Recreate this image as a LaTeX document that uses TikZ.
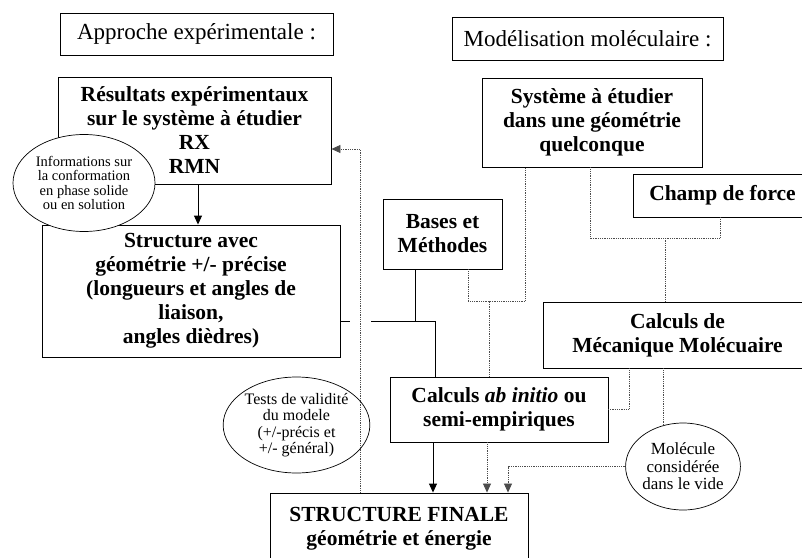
\documentclass[tikz,border=0pt]{standalone}
\usepackage{fontspec}
\setmainfont{Liberation Serif}
\usetikzlibrary{arrows.meta,shapes.geometric}

\begin{document}
\begin{tikzpicture}[x=1pt, y=-1pt, line width=0.9pt,
  head/.style={draw, rectangle, align=center, inner sep=0pt,
    font=\fontsize{23}{26}\selectfont},
  box/.style={draw, rectangle, align=center, inner sep=0pt,
    font=\fontsize{21.5}{24}\selectfont\bfseries},
  bulle/.style={draw, ellipse, align=center, inner sep=0pt, line width=0.7pt},
  link/.style={line width=1pt},
  dotlink/.style={densely dotted, line width=0.8pt, gray!60!black},
  arr/.style={link, -{Triangle[length=9pt,width=8pt]}},
  dotarr/.style={dotlink, -{Triangle[length=9pt,width=8pt]}}]
  \useasboundingbox (0,0) rectangle (802,557);
  \clip (0,0) rectangle (802,557);
  % titres
  \node[head, minimum width=273pt, minimum height=42pt] (hexp) at (196.5,34) {Approche expérimentale :};
  \node[head, minimum width=271pt, minimum height=43pt] (hmod) at (587.5,38.5) {Modélisation moléculaire :};
  % approche experimentale
  \node[box, minimum width=273pt, minimum height=107pt] (res) at (194.5,130.5)
    {Résultats expérimentaux\\sur le système à étudier\\RX\\RMN};
  \node[box, minimum width=298pt, minimum height=132pt] (struc) at (191,291)
    {Structure avec\\géométrie +/- précise\\(longueurs et angles de\\liaison,\\angles dièdres)};
  \node[bulle, fill=white, minimum width=142pt, minimum height=97pt,
    font=\fontsize{14.5}{14.5}\selectfont] (info) at (84,183)
    {Informations sur\\la conformation\\en phase solide\\ou en solution};
  % modelisation
  \node[box, minimum width=220pt, minimum height=89pt] (sys) at (592,122.5)
    {Système à étudier\\dans une géométrie\\quelconque};
  \node[box, minimum width=179pt, minimum height=43pt] (champ) at (722.5,195.5) {Champ de force};
  \node[box, minimum width=119pt, minimum height=70pt] (bases) at (442.5,234) {Bases et\\Méthodes};
  \node[box, minimum width=269pt, minimum height=66pt] (meca) at (677.5,335)
    {Calculs de\\Mécanique Molécuaire};
  \node[box, minimum width=218pt, minimum height=65pt] (abin) at (499,409.5)
    {Calculs \textit{ab initio} ou\\semi-empiriques};
  \node[bulle, minimum width=143pt, minimum height=96pt,
    font=\fontsize{16}{16.5}\selectfont] (tests) at (296.5,425)
    {Tests de validité\\du modele\\(+/-précis et\\+/- général)};
  \node[bulle, minimum width=110pt, minimum height=87pt,
    font=\fontsize{17}{17.5}\selectfont] (mol) at (683,466.5)
    {Molécule\\considérée\\dans le vide};
  % resultat
  \node[box, minimum width=258pt, minimum height=72pt] (final) at (399,529)
    {STRUCTURE FINALE\\géométrie et énergie};
  % liens
  \draw[arr] ([xshift=3.5pt]res.south) -- ([xshift=3.5pt]res.south |- struc.north);
  \draw[dotarr] ([xshift=-39pt]final.north) |- ([yshift=-18.5pt]res.east);
  \coordinate (jmp) at ([yshift=-30pt]struc.east);
  \draw[link] (jmp) -- ++(10,0);
  \draw[link] (jmp) ++(31,0) -| ([xshift=-64pt]abin.north);
  \draw[link] ([xshift=-27.5pt]bases.south) -- ([xshift=-27.5pt]bases.south |- jmp);
  \draw[dotlink] ([xshift=25.5pt]bases.south) -- ++(0,32) -| ([xshift=-67pt]sys.south);
  \draw[dotlink] ([xshift=-10pt]abin.north) -- ++(0,-76);
  \draw[dotlink] ([xshift=-2pt]sys.south) -- ++(0,71) -| ([xshift=-2.5pt]champ.south);
  \draw[dotlink] ([xshift=-12.5pt]meca.north) -- ++(0,-64);
  \draw[dotlink] ([xshift=-48.5pt]meca.south) |- (abin.east);
  \draw[dotlink] ([xshift=-14.5pt]meca.south) -- ++(0,56);
  \draw[dotarr] (mol.west) -| ([xshift=109pt]final.north);
  \draw[arr] ([xshift=-66pt]abin.south) -- ([xshift=-66pt]abin.south |- final.north);
  \draw[dotarr] ([xshift=-12pt]abin.south) -- ([xshift=-12pt]abin.south |- final.north);
\end{tikzpicture}
\end{document}
